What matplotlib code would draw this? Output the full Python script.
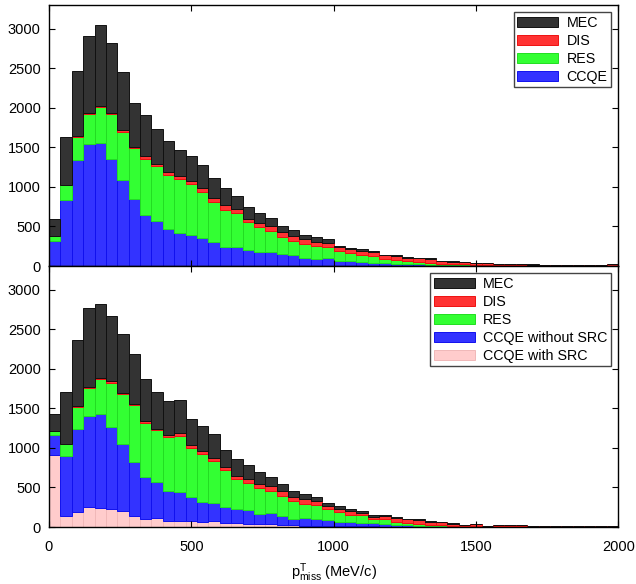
import numpy as np
import matplotlib
matplotlib.use("Agg")
import matplotlib.pyplot as plt

plt.rcParams['font.family'] = ['Liberation Sans', 'DejaVu Sans']
plt.rcParams['mathtext.default'] = 'regular'

# bordes de los bins: 50 bins de 40 MeV/c entre 0 y 2000
edges = np.arange(0, 2001, 40)

# panel superior
top_ccqe = [311, 840, 1344, 1537, 1554, 1357, 1092, 844, 647, 567,
            462, 412, 391, 349, 302, 244, 235, 202, 176, 172,
            147, 134, 97, 84, 97, 67, 59, 50, 42, 34,
            29, 25, 21, 17, 12, 10, 8, 6, 5, 4,
            3, 3, 2, 2, 2, 1, 1, 1, 1, 1]
top_res = [67, 180, 286, 387, 462, 567, 601, 643, 705, 701,
           693, 693, 646, 588, 509, 470, 429, 352, 311, 273,
           223, 185, 180, 168, 138, 126, 101, 84, 84, 58,
           47, 34, 29, 25, 18, 15, 12, 9, 7, 6,
           5, 4, 4, 3, 3, 2, 2, 2, 2, 2]
top_dis = [7, 10, 8, 12, 8, 12, 21, 21, 34, 26,
           29, 29, 34, 46, 54, 59, 54, 42, 51, 59,
           63, 59, 67, 55, 59, 51, 50, 59, 50, 42,
           54, 46, 50, 50, 30, 31, 32, 25, 24, 18,
           17, 14, 13, 12, 11, 10, 10, 9, 8, 20]
top_mec = [215, 600, 827, 975, 1021, 882, 739, 554, 525, 436,
           399, 336, 319, 290, 252, 218, 172, 147, 138, 105,
           79, 76, 42, 54, 42, 8, 21, 17, 9, 9,
           4, 8, 5, 5, 3, 3, 3, 2, 2, 1,
           1, 1, 1, 1, 1, 1, 1, 1, 1, 1]

# panel inferior
bot_src = [909, 139, 194, 248, 244, 232, 198, 143, 97, 118,
           80, 80, 72, 63, 76, 55, 51, 42, 38, 34,
           25, 21, 17, 17, 13, 12, 10, 8, 8, 6,
           5, 4, 4, 3, 3, 2, 2, 2, 1, 1,
           1, 1, 1, 1, 1, 0, 0, 0, 0, 0]
bot_nosrc = [249, 758, 1040, 1158, 1183, 1035, 855, 678, 530, 455,
             375, 366, 303, 253, 227, 198, 176, 173, 126, 143,
             114, 80, 92, 84, 75, 51, 53, 47, 38, 32,
             24, 17, 13, 11, 9, 8, 6, 6, 4, 4,
             3, 3, 2, 2, 2, 1, 1, 1, 1, 1]
bot_res = [50, 151, 286, 354, 446, 556, 623, 716, 691, 648,
           682, 708, 627, 602, 531, 471, 375, 341, 329, 282,
           257, 232, 181, 173, 135, 122, 93, 92, 59, 59,
           34, 25, 21, 15, 10, 8, 6, 6, 3, 4,
           4, 3, 3, 2, 2, 2, 2, 1, 1, 1]
bot_dis = [9, 7, 8, 12, 13, 21, 21, 16, 21, 17,
           25, 29, 34, 42, 38, 38, 46, 54, 50, 59,
           54, 50, 59, 59, 42, 47, 46, 34, 25, 42,
           51, 51, 50, 34, 36, 26, 15, 24, 5, 12,
           20, 12, 8, 10, 8, 7, 7, 6, 8, 10]
bot_mec = [214, 646, 834, 1002, 939, 829, 749, 628, 526, 463,
           425, 417, 332, 311, 298, 211, 207, 177, 147, 109,
           93, 72, 68, 46, 42, 29, 21, 25, 26, 17,
           8, 8, 9, 9, 5, 2, 0, 0, 0, 0,
           1, 1, 0, 0, 0, 0, 0, 0, 0, 0]

colores = {'MEC': ('#333333', '#111111'),
           'DIS': ('#ff3333', '#ee1111'),
           'RES': ('#33ff33', '#22dd22'),
           'CCQE': ('#3333ff', '#1111ee'),
           'CCQE without SRC': ('#3333ff', '#1111ee'),
           'CCQE with SRC': ('#ffcccc', '#f0b8b8')}


def apilar(ax, capas):
    # capas: lista de (etiqueta, valores) de abajo hacia arriba
    base = np.zeros(len(edges) - 1)
    for nombre, vals in capas:
        vals = np.array(vals, dtype=float)
        fc, ec = colores[nombre]
        ax.bar(edges[:-1], vals, width=np.diff(edges), bottom=base, align='edge',
               color=fc, edgecolor=ec, linewidth=0.7, label=nombre)
        base = base + vals


fig = plt.figure(figsize=(6.36, 5.84), dpi=100)
ax1 = fig.add_axes([0.077, 0.5445, 0.895, 0.447])
ax2 = fig.add_axes([0.077, 0.0976, 0.895, 0.447])

apilar(ax1, [('CCQE', top_ccqe), ('RES', top_res), ('DIS', top_dis), ('MEC', top_mec)])
apilar(ax2, [('CCQE with SRC', bot_src), ('CCQE without SRC', bot_nosrc),
             ('RES', bot_res), ('DIS', bot_dis), ('MEC', bot_mec)])

for ax in (ax1, ax2):
    ax.set_xlim(0, 2000)
    ax.set_ylim(0, 3300)
    ax.set_yticks(np.arange(0, 3001, 500))
    ax.set_xticks([0, 500, 1000, 1500, 2000])
    ax.tick_params(direction='in', top=True, right=True, labelsize=10.5, length=4)
    ax.tick_params(axis='y', pad=6)
    ax.tick_params(axis='x', pad=9)
    for s in ax.spines.values():
        s.set_linewidth(1.0)
    h, l = ax.get_legend_handles_labels()
    leg = ax.legend(h[::-1], l[::-1], loc='upper right', fontsize=10.3,
                    handlelength=2.85, handleheight=0.68, fancybox=False,
                    borderaxespad=0.5, labelspacing=0.28, handletextpad=0.6,
                    borderpad=0.25, framealpha=1)
    leg.get_frame().set_edgecolor('#444444')
    leg.get_frame().set_linewidth(1.0)

ax1.tick_params(labelbottom=False)
ax2.set_xlabel('$p^{T}_{miss}$ (MeV/c)', fontsize=10.5, labelpad=6)

fig.savefig('out.png', dpi=100)
